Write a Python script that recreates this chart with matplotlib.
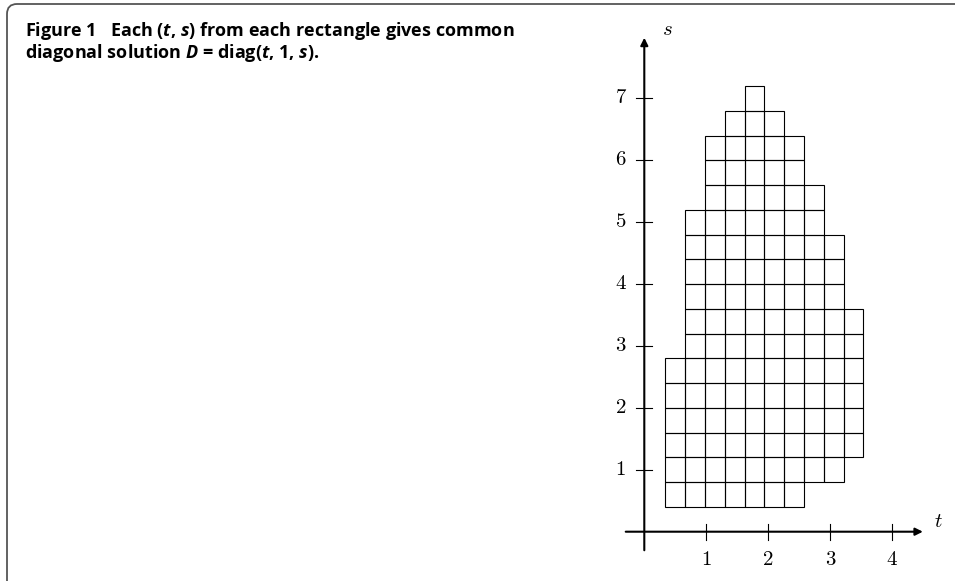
import matplotlib
matplotlib.use("Agg")
import matplotlib.pyplot as plt
from matplotlib.patches import FancyBboxPatch
from matplotlib.transforms import IdentityTransform

# ---- data ----
t_left = [0.34, 0.66, 0.98, 1.30, 1.62, 1.94, 2.26, 2.58, 2.90, 3.22]
cell_w = 0.32
cell_h = 0.4
col_bottom = [0.4, 0.4, 0.4, 0.4, 0.4, 0.4, 0.4, 0.8, 0.8, 1.2]
col_top = [2.8, 5.2, 6.4, 6.8, 7.2, 6.8, 6.4, 5.6, 4.8, 3.6]
x_ticks = [1, 2, 3, 4]
y_ticks = [1, 2, 3, 4, 5, 6, 7]
caption_1 = r"Figure 1   Each ($t$, $s$) from each rectangle gives common"
caption_2 = r"diagonal solution $D$ = diag($t$, 1, $s$)."

plt.rcParams["mathtext.fontset"] = "custom"
plt.rcParams["mathtext.it"] = "Open Sans:italic:bold"
plt.rcParams["mathtext.rm"] = "Open Sans:bold"

W, H = 955, 581
fig = plt.figure(figsize=(W / 100, H / 100), dpi=100)

unit = 61.9
ox, oy = 644.3, H - 531.7
xl = (-0.5, 5.0)
yl = (-0.7, 8.5)
left = ox + xl[0] * unit
bottom = oy + yl[0] * unit
ax = fig.add_axes([left / W, bottom / H, (xl[1] - xl[0]) * unit / W, (yl[1] - yl[0]) * unit / H])
ax.set_xlim(*xl)
ax.set_ylim(*yl)
ax.axis("off")

# cells
for tl, b, tp in zip(t_left, col_bottom, col_top):
    n = int(round((tp - b) / cell_h))
    bots = [b + i * cell_h for i in range(n)]
    ax.bar([tl] * n, [cell_h] * n, bottom=bots, width=cell_w, align="edge",
           fill=False, edgecolor="black", linewidth=0.8)

# axes with arrows
ax.annotate("", xy=(4.5, 0), xytext=(-0.3, 0),
            arrowprops=dict(arrowstyle="-|>", lw=1.5, color="black", mutation_scale=11,
                            shrinkA=0, shrinkB=0))
ax.annotate("", xy=(0, 7.98), xytext=(0, -0.3),
            arrowprops=dict(arrowstyle="-|>", lw=1.5, color="black", mutation_scale=11,
                            shrinkA=0, shrinkB=0))

tk = 0.13
for x in x_ticks:
    ax.plot([x, x], [-tk, tk], color="black", lw=0.8)
    ax.text(x, -0.46, str(x), family="cmr10", fontsize=15, ha="center", va="center")
for y in y_ticks:
    ax.plot([-tk, tk], [y, y], color="black", lw=0.8)
    ax.text(-0.38, y, str(y), family="cmr10", fontsize=15, ha="center", va="center")

ax.text(4.75, 0.16, "t", family="cmmi10", fontsize=15, ha="center", va="center")
ax.text(0.38, 8.1, "s", family="cmmi10", fontsize=15, ha="center", va="center")

# frame
box = FancyBboxPatch((7, -20), 1100, H - 4 + 20, boxstyle="round,pad=0,rounding_size=10",
                     transform=IdentityTransform(), fill=False, edgecolor="#555555", lw=1.3,
                     clip_on=False)
fig.add_artist(box)

fig.text(25 / W, 1 - 36 / H, caption_1, fontsize=13, family="Open Sans",
         weight="bold", ha="left", va="baseline")
fig.text(25 / W, 1 - 58 / H, caption_2, fontsize=13, family="Open Sans",
         weight="bold", ha="left", va="baseline")

fig.savefig("out.png", dpi=100)
